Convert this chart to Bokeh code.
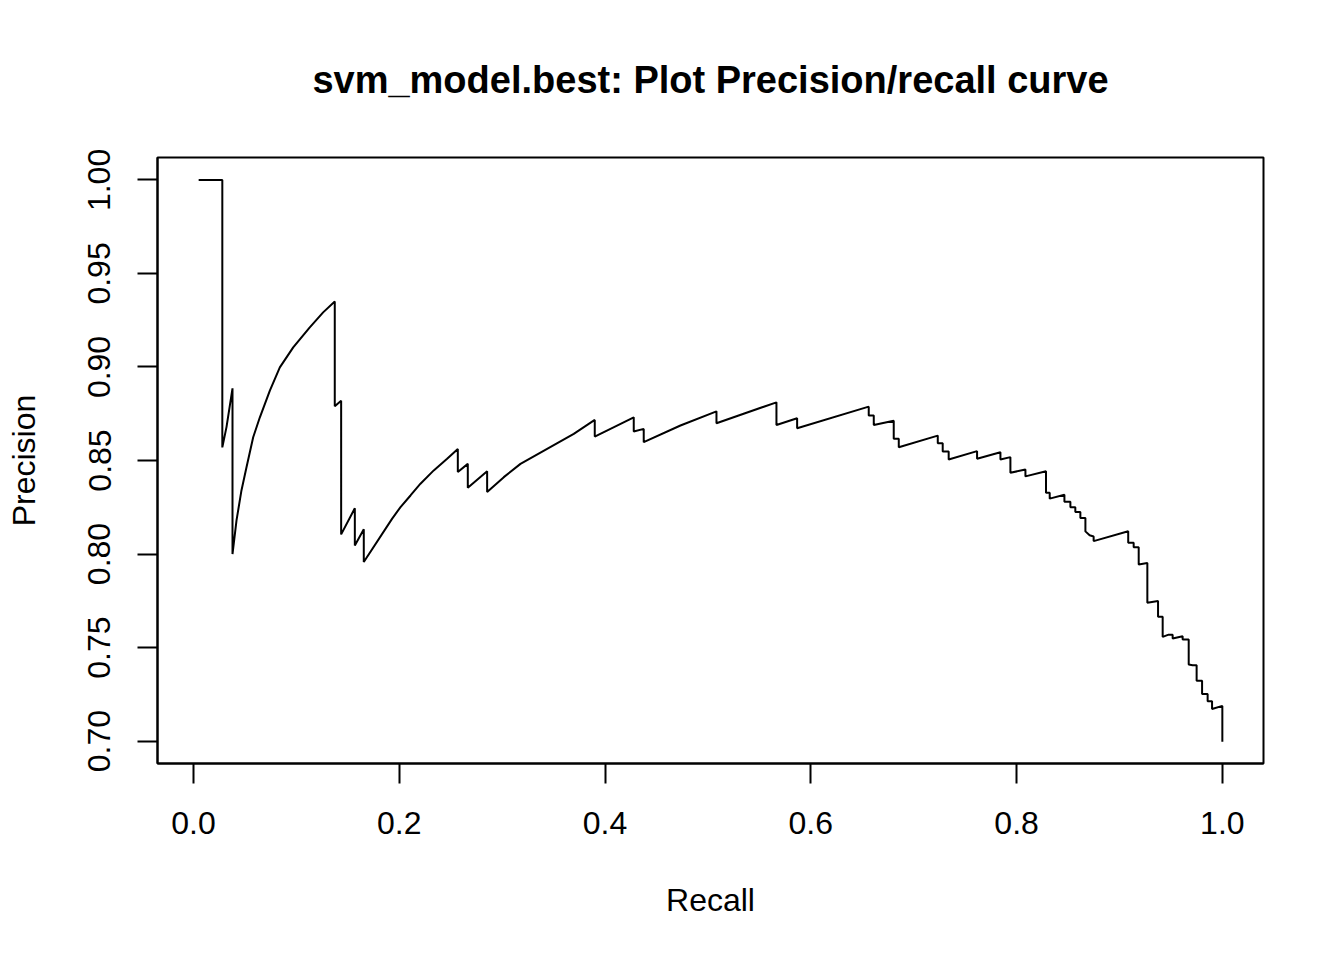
from bokeh.plotting import figure
from bokeh.models import FixedTicker, PrintfTickFormatter, Range1d
from bokeh.embed import file_html
from bokeh.resources import INLINE

title_text = "svm_model.best: Plot Precision/recall curve"
x_label = "Recall"
y_label = "Precision"
x_ticks = [0.0, 0.2, 0.4, 0.6, 0.8, 1.0]
y_ticks = [0.70, 0.75, 0.80, 0.85, 0.90, 0.95, 1.00]

recall = [
    0.005, 0.028, 0.028, 0.0321, 0.0379, 0.0379,
    0.0418, 0.0466, 0.0515, 0.0580, 0.0645, 0.0742, 0.0839, 0.0969,
    0.1130, 0.1260, 0.1373,
    0.1373, 0.1435, 0.1435, 0.1568, 0.1568, 0.1655, 0.1655,
    0.1931, 0.2012, 0.2109, 0.2206, 0.2335, 0.2465, 0.2569,
    0.2569, 0.2666, 0.2666, 0.2854, 0.2854,
    0.3016, 0.3178, 0.3437, 0.3696, 0.3900,
    0.3900, 0.4279, 0.4279, 0.4376, 0.4376,
    0.4733, 0.5083, 0.5083, 0.5666, 0.5666, 0.5867, 0.5867,
    0.6563, 0.6563, 0.6612, 0.6612, 0.6806, 0.6806, 0.6855, 0.6855,
    0.7234, 0.7234, 0.7282, 0.7282, 0.7340, 0.7340,
    0.7616, 0.7616, 0.7843, 0.7843, 0.7940, 0.7940,
    0.8086, 0.8086, 0.8286, 0.8286, 0.8322, 0.8322,
    0.8465, 0.8465, 0.8523, 0.8523, 0.8571, 0.8571, 0.8620, 0.8620,
    0.8669, 0.8669, 0.8710, 0.8749, 0.8749,
    0.9085, 0.9085, 0.9138, 0.9138, 0.9187, 0.9187,
    0.9271, 0.9271, 0.9375, 0.9375, 0.9420, 0.9420,
    0.9478, 0.9517, 0.9517, 0.9614, 0.9614, 0.9673, 0.9673,
    0.9711, 0.9750, 0.9750, 0.9803, 0.9803, 0.9857, 0.9857,
    0.9900, 0.9900, 1.0000, 1.0000,
]
precision = [
    1.000, 1.000, 0.857, 0.868, 0.8886, 0.800,
    0.8180, 0.8340, 0.8464, 0.8624, 0.8731, 0.8874, 0.8998, 0.9105,
    0.9212, 0.9292, 0.9350,
    0.879, 0.882, 0.8105, 0.8245, 0.8046, 0.8132, 0.7957,
    0.8189, 0.8251, 0.8313, 0.8376, 0.8447, 0.8509, 0.8562,
    0.8438, 0.8482, 0.8354, 0.8443, 0.8331,
    0.8411, 0.8482, 0.8562, 0.8642, 0.8717,
    0.8628, 0.8731, 0.8655, 0.8669, 0.8598,
    0.8687, 0.8763, 0.8699, 0.8811, 0.8690, 0.8726, 0.8672,
    0.8788, 0.8740, 0.8740, 0.8690, 0.8713, 0.8616, 0.8616, 0.8571,
    0.8633, 0.8592, 0.8592, 0.8548, 0.8548, 0.8505,
    0.8550, 0.8509, 0.8544, 0.8505, 0.8518, 0.8434,
    0.8452, 0.8415, 0.8443, 0.8327, 0.8327, 0.8296,
    0.8317, 0.8280, 0.8280, 0.8250, 0.8250, 0.8225, 0.8225, 0.8193,
    0.8193, 0.8121, 0.8100, 0.8094, 0.8069,
    0.8122, 0.8060, 0.8060, 0.8036, 0.8036, 0.7944,
    0.7952, 0.7740, 0.7749, 0.7665, 0.7665, 0.7557,
    0.7569, 0.7569, 0.7548, 0.7560, 0.7543, 0.7543, 0.7409,
    0.7405, 0.7405, 0.7322, 0.7322, 0.7251, 0.7251, 0.7213,
    0.7213, 0.7171, 0.7188, 0.6996,
]

FONT = "Liberation Sans"

p = figure(
    width=1344, height=960,
    output_backend="svg", toolbar_location=None,
    x_range=Range1d(-0.035, 1.04), y_range=Range1d(0.688, 1.012),
    min_border_left=157, min_border_right=81,
    min_border_top=157, min_border_bottom=197,
    title=title_text,
)
p.background_fill_color = "white"
p.border_fill_color = "white"
p.outline_line_color = "black"
p.outline_line_width = 2
p.grid.visible = False

p.title.align = "center"
p.title.text_font = FONT
p.title.text_font_size = "38px"
p.title.text_font_style = "bold"
p.title.text_color = "black"
p.title.standoff = 113

for ax in (p.xaxis[0], p.yaxis[0]):
    ax.axis_line_color = "black"
    ax.axis_line_width = 2
    ax.major_tick_line_color = "black"
    ax.major_tick_line_width = 2
    ax.major_tick_in = 0
    ax.major_tick_out = 20
    ax.minor_tick_line_color = None
    ax.major_label_text_font = FONT
    ax.major_label_text_font_size = "32px"
    ax.major_label_text_color = "black"
    ax.axis_label_text_font = FONT
    ax.axis_label_text_font_size = "32px"
    ax.axis_label_text_font_style = "normal"
    ax.axis_label_text_color = "black"

p.xaxis.ticker = FixedTicker(ticks=x_ticks)
p.xaxis.formatter = PrintfTickFormatter(format="%.1f")
p.xaxis.axis_label = x_label
p.xaxis.major_label_standoff = 28
p.xaxis.axis_label_standoff = 45

p.yaxis.ticker = FixedTicker(ticks=y_ticks)
p.yaxis.formatter = PrintfTickFormatter(format="%.2f")
p.yaxis.axis_label = y_label
p.yaxis.major_label_orientation = "vertical"
p.yaxis.major_label_standoff = 27
p.yaxis.axis_label_standoff = 44

p.line(recall, precision, line_color="black", line_width=2)

open("out.html", "w").write(file_html(p, INLINE))
